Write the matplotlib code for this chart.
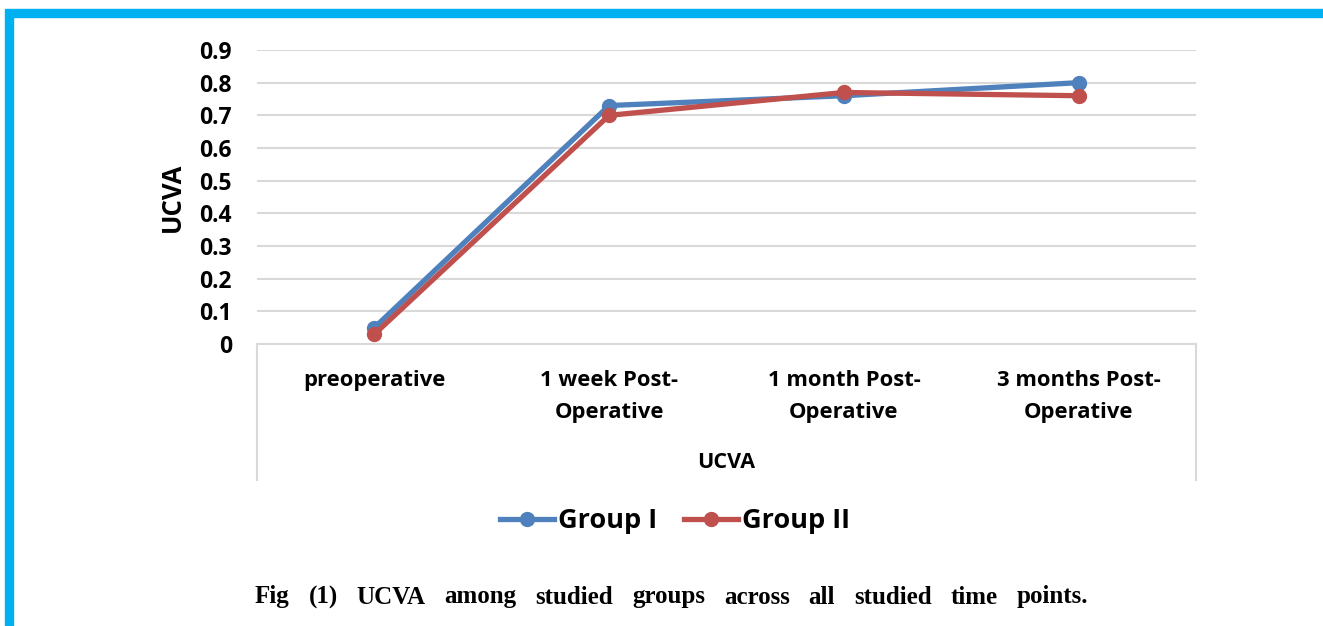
import matplotlib.pyplot as plt
from matplotlib.patches import Rectangle
from matplotlib.lines import Line2D

# ---- data ----
categories = ["preoperative", "1 week Post-\nOperative", "1 month Post-\nOperative", "3 months Post-\nOperative"]
group_1 = [0.05, 0.73, 0.76, 0.80]
group_2 = [0.03, 0.70, 0.77, 0.76]
y_ticks = [0, 0.1, 0.2, 0.3, 0.4, 0.5, 0.6, 0.7, 0.8, 0.9]
caption_words = ["Fig", "(1)", "UCVA", "among", "studied", "groups", "across", "all", "studied", "time", "points."]

W, H = 1323, 626
BLUE = "#4F81BD"
RED = "#C0504D"
GRID = "#D9D9D9"
CYAN = "#00B0F0"
FONT = "Open Sans"

fig = plt.figure(figsize=(W / 100, H / 100), dpi=100)

def fx(px):
    return px / W

def fy(py):
    return 1 - py / H

# frame bands
fig.patches.append(Rectangle((fx(5), fy(17)), fx(W - 5), 8 / H, transform=fig.transFigure,
                             color=CYAN, zorder=0))
fig.patches.append(Rectangle((fx(5), 0), 8 / W, fy(17), transform=fig.transFigure,
                             color=CYAN, zorder=0))

ax = fig.add_axes([fx(257), fy(344), fx(1196) - fx(257), fy(50) - fy(344)])
x = list(range(len(categories)))
ax.plot(x, group_1, color=BLUE, lw=3.8, marker="o", ms=10, label="Group I", zorder=3,
        solid_capstyle="round")
ax.plot(x, group_2, color=RED, lw=3.8, marker="o", ms=10, label="Group II", zorder=4,
        solid_capstyle="round")

ax.set_xlim(-0.5, len(categories) - 0.5)
ax.set_ylim(0, 0.9)
ax.set_yticks(y_ticks)
ax.set_yticklabels(["0" if v == 0 else f"{v:.1f}" for v in y_ticks],
                   fontsize=16.5, fontweight="bold", family=FONT)
ax.yaxis.grid(True, color=GRID, lw=1.5)
ax.set_axisbelow(True)
for s in ax.spines.values():
    s.set_visible(False)
ax.tick_params(axis="y", length=0, pad=18)
ax.tick_params(axis="x", length=0, pad=19)
ax.set_xticks(x)
ax.set_xticklabels(categories, fontsize=15.8, fontweight="bold", family=FONT, linespacing=1.65,
                   va="top")

# category box under the plot
box_bottom = -(480 - 344) / (344 - 50)
ax.plot([0, 1], [0, 0], transform=ax.transAxes, color=GRID, lw=1.5, clip_on=False)
ax.plot([0, 0], [0, box_bottom], transform=ax.transAxes, color=GRID, lw=1.5, clip_on=False)
ax.plot([1, 1], [0, box_bottom], transform=ax.transAxes, color=GRID, lw=1.5, clip_on=False)

ax.text(0.5, -(463 - 344) / (344 - 50), "UCVA", transform=ax.transAxes, ha="center",
        va="center", fontsize=15.5, fontweight="bold", family=FONT)
fig.text(fx(172), fy(197), "UCVA", rotation=90, ha="center", va="center",
         fontsize=18.5, fontweight="bold", family=FONT)

handles = [Line2D([], [], color=BLUE, lw=3.8, marker="o", ms=10),
           Line2D([], [], color=RED, lw=3.8, marker="o", ms=10)]
fig.legend(handles, ["Group I", "Group II"], loc="center", bbox_to_anchor=(fx(675), fy(521)),
           ncol=2, frameon=False, handlelength=2.0, handletextpad=0.15, columnspacing=1.0,
           prop={"family": FONT, "weight": "bold", "size": 19.5})

# justified caption
fig.canvas.draw()
renderer = fig.canvas.get_renderer()
texts = []
for w in caption_words:
    t = fig.text(0, fy(597), w, ha="left", va="center", family="Liberation Serif",
                 fontweight="bold", fontsize=18)
    texts.append(t)
widths = [t.get_window_extent(renderer).width for t in texts]
left, right = 255, 1088
gap = (right - left - sum(widths)) / (len(texts) - 1)
pos = left
for t, wd in zip(texts, widths):
    t.set_x(fx(pos))
    pos += wd + gap

fig.savefig("out.png", dpi=100)
